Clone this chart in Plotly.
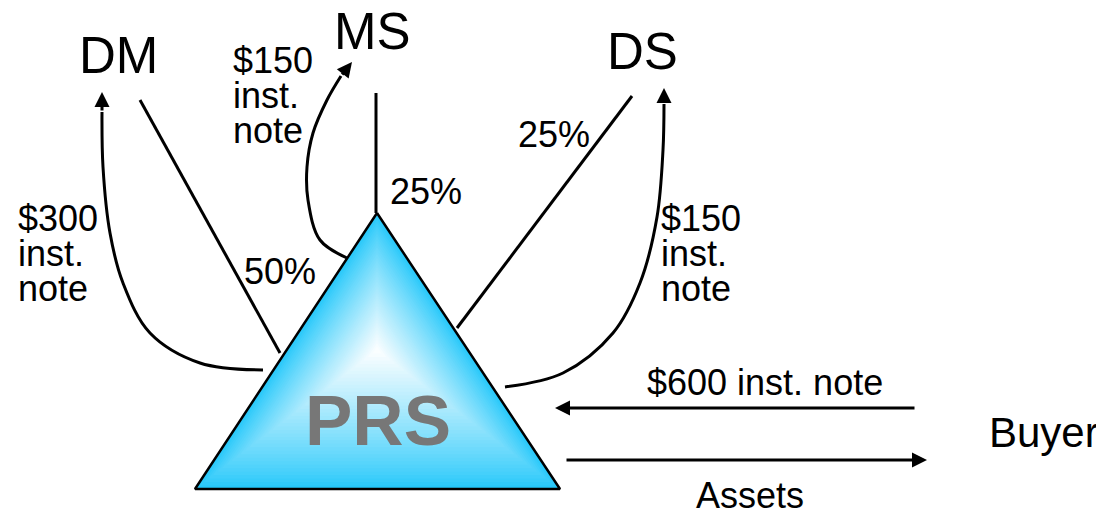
import plotly.graph_objects as go

# --- diagram data -----------------------------------------------------------
owners = ["DM", "MS", "DS"]
ownership_pct = [50, 25, 25]
note_amounts = [300, 150, 150]
buyer_note = 600
entity = "PRS"
buyer = "Buyer"
transfer_label = "Assets"

# --- layout geometry (pixel space, y grows downwards) -----------------------
W, H = 1104, 513
PAD = 8  # default body margin of the html page
tri_x = [377, 560, 195, 377]
tri_y = [213, 489, 489, 213]
grad_center = (377, 350)

owner_pos = {"DM": (118, 55), "MS": (372, 31), "DS": (642, 51)}
# ownership lines: owner -> PRS
own_lines = {
    "DM": ([140, 280], [100, 353]),
    "MS": ([376, 376], [93, 213]),
    "DS": ([632, 457], [96, 328]),
}
pct_pos = {"DM": (280, 271), "MS": (426, 191), "DS": (554, 134)}

# note arrows: PRS -> owner (curve, then tip)
note_curves = {
    "DM": ([263, 200, 150, 123, 110, 103, 102], [370, 363, 333, 283, 233, 167, 112]),
    "MS": ([347, 320, 308, 307, 313, 327, 341], [258, 240, 200, 167, 133, 100, 76]),
    "DS": ([505, 563, 613, 640, 657, 663, 664], [387, 373, 333, 283, 217, 150, 104]),
}
note_tips = {"DM": (102, 92), "MS": (352, 62), "DS": (664, 88)}
note_lbl = {"DM": (16, [218, 253, 288]), "MS": (231, [60, 95, 130]), "DS": (659, [218, 253, 288])}


def mix(c1, c2, w):
    return "rgb(%d,%d,%d)" % tuple(round(a + (b - a) * w) for a, b in zip(c1, c2))


fig = go.Figure()

line = dict(color="black", width=3)

for name in owners:
    xs, ys = own_lines[name]
    fig.add_trace(go.Scatter(x=xs, y=ys, mode="lines", line=line, hoverinfo="skip"))
    xs, ys = note_curves[name]
    fig.add_trace(go.Scatter(x=xs, y=ys, mode="lines", line=dict(color="black", width=3, shape="spline"),
                             hoverinfo="skip"))

# triangle with path gradient (cyan edge -> white centre)
cyan, white = (38, 200, 250), (255, 255, 255)
N = 40
cx, cy = grad_center
for k in range(N):
    s = 1 - k / N
    w = (k / N) ** 0.85
    fig.add_trace(go.Scatter(
        x=[cx + (x - cx) * s for x in tri_x],
        y=[cy + (y - cy) * s for y in tri_y],
        mode="lines", fill="toself", fillcolor=mix(cyan, white, w),
        line=dict(width=0), hoverinfo="skip"))
fig.add_trace(go.Scatter(x=tri_x, y=tri_y, mode="lines", line=dict(color="black", width=2.5),
                         hoverinfo="skip"))

font = dict(family="Liberation Sans, Arial, sans-serif", color="black")
ann = []
for name, pct, amt in zip(owners, ownership_pct, note_amounts):
    x, y = owner_pos[name]
    ann.append(dict(x=x, y=y, text=name, showarrow=False, font=dict(font, size=51)))
    x, y = pct_pos[name]
    ann.append(dict(x=x, y=y, text=f"{pct}%", showarrow=False, font=dict(font, size=36)))
    lx, lys = note_lbl[name]
    for t, ly in zip([f"${amt}", "inst.", "note"], lys):
        ann.append(dict(x=lx, y=ly, text=t, showarrow=False, xanchor="left", font=dict(font, size=36)))
    xs, ys = note_curves[name]
    tx, ty = note_tips[name]
    ann.append(dict(x=tx, y=ty, ax=xs[-1], ay=ys[-1], axref="x", ayref="y", showarrow=True,
                    arrowhead=2, arrowwidth=3, arrowsize=1, arrowcolor="black", text="", standoff=0))

ann += [
    dict(x=378, y=420, text=f"<b>{entity}</b>", showarrow=False,
         font=dict(family="Liberation Sans, Arial, sans-serif", size=71, color="#777777")),
    dict(x=1044, y=432, text=buyer, showarrow=False, font=dict(font, size=42)),
    dict(x=765, y=382, text=f"${buyer_note} inst. note", showarrow=False, font=dict(font, size=36)),
    dict(x=750, y=495, text=transfer_label, showarrow=False, font=dict(font, size=36)),
    dict(x=555, y=408, ax=916, ay=408, axref="x", ayref="y", showarrow=True, arrowhead=2,
         arrowwidth=3, arrowsize=1, arrowcolor="black", text="", standoff=0),
    dict(x=927, y=460, ax=565, ay=460, axref="x", ayref="y", showarrow=True, arrowhead=2,
         arrowwidth=3, arrowsize=1, arrowcolor="black", text="", standoff=0),
]

fig.update_layout(
    width=W - PAD, height=H - PAD,
    margin=dict(l=0, r=0, t=0, b=0),
    paper_bgcolor="white", plot_bgcolor="white",
    showlegend=False,
    annotations=ann,
    xaxis=dict(range=[PAD, W], visible=False, fixedrange=True),
    yaxis=dict(range=[H, PAD], visible=False, fixedrange=True),
)

fig.write_html("out.html")
